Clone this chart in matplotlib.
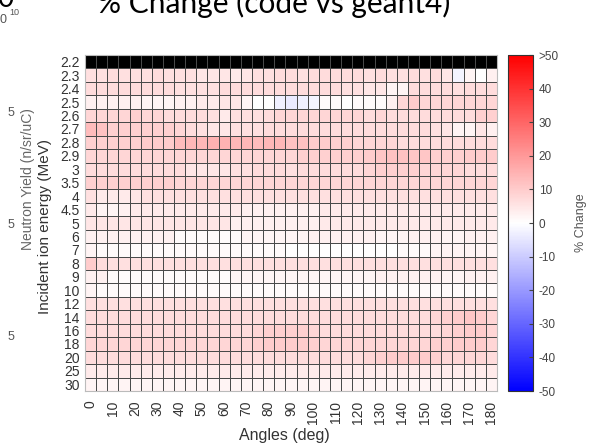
import numpy as np
import matplotlib
matplotlib.use('Agg')
import matplotlib.pyplot as plt

plt.rcParams['font.family'] = ['Liberation Sans', 'DejaVu Sans']

# energies (rows, top to bottom) and angles (columns)
energies = ['2.2', '2.3', '2.4', '2.5', '2.6', '2.7', '2.8', '2.9', '3', '3.5', '4', '4.5',
            '5', '6', '7', '8', '9', '10', '12', '14', '16', '18', '20', '25', '30']
angles = [0, 5, 10, 15, 20, 25, 30, 35, 40, 45, 50, 55, 60, 65, 70, 75, 80, 85, 90,
          95, 100, 105, 110, 115, 120, 125, 130, 135, 140, 145, 150, 155, 160, 165, 170, 175, 180]
cbar_ticks = [-50, -40, -30, -20, -10, 0, 10, 20, 30, 40, 50]
cbar_labels = ['-50', '-40', '-30', '-20', '-10', '0', '10', '20', '30', '40', '>50']

# % change (code vs geant4), 2.2 MeV row has no data
nan = np.nan
pct_change = [
    [nan] * 37,
    [6, 6, 7, 6, 6, 6, 7, 6, 6, 6, 5, 5, 5, 4, 5, 6, 6, 7, 7, 6, 7, 7, 7, 7, 7, 6, 7, 6, 6, 7, 6, 7, 5, -2, 2, 0, 3],
    [7, 7, 7, 7, 7, 7, 7, 7, 6, 6, 6, 6, 7, 7, 7, 7, 7, 7, 7, 7, 7, 7, 7, 6, 6, 5, 5, 2, 2, 7, 7, 7, 7, 6, 7, 7, 7],
    [3, 3, 3, 3, 3, 2, 2, 2, 3, 3, 4, 4, 5, 5, 2, 0, 0, -3, -4, -3, -2, 1, 1, 0, 1, 1, 1, 3, 8, 10, 8, 8, 8, 8, 8, 8, 8],
    [8, 8, 8, 8, 9, 8, 8, 7, 7, 7, 7, 6, 4, 6, 6, 6, 7, 8, 8, 8, 8, 8, 8, 8, 8, 7, 8, 7, 7, 7, 7, 7, 7, 7, 7, 9, 9],
    [13, 12, 9, 9, 9, 9, 9, 9, 8, 7, 6, 5, 5, 6, 6, 6, 7, 7, 7, 7, 7, 7, 7, 7, 7, 7, 7, 7, 7, 7, 7, 6, 5, 2, 2, 5, 3],
    [9, 9, 9, 9, 9, 10, 10, 10, 13, 14, 14, 15, 15, 14, 14, 13, 14, 14, 12, 12, 10, 10, 9, 9, 8, 8, 8, 8, 7, 7, 7, 7, 7, 7, 7, 7, 7],
    [8, 8, 8, 8, 8, 8, 8, 8, 8, 8, 8, 8, 8, 8, 8, 8, 8, 8, 8, 9, 9, 9, 9, 9, 9, 10, 11, 12, 12, 11, 11, 9, 9, 9, 10, 10, 10],
    [7, 7, 7, 7, 7, 7, 7, 7, 7, 5, 5, 5, 5, 6, 6, 7, 7, 7, 6, 7, 7, 7, 7, 7, 7, 8, 9, 9, 9, 9, 8, 8, 8, 8, 7, 7, 7],
    [9, 9, 9, 9, 9, 9, 9, 9, 8, 8, 8, 8, 8, 8, 8, 8, 8, 8, 8, 8, 8, 8, 8, 8, 8, 8, 8, 8, 8, 8, 8, 8, 8, 8, 8, 8, 8],
    [6, 4, 4, 4, 5, 6, 6, 6, 6, 6, 6, 6, 6, 6, 6, 6, 6, 6, 6, 6, 6, 6, 6, 6, 6, 6, 6, 6, 6, 6, 6, 6, 6, 6, 6, 6, 6],
    [4, 2, 2, 3, 4, 4, 4, 4, 4, 4, 4, 4, 4, 4, 3, 3, 3, 3, 3, 3, 3, 4, 4, 4, 4, 4, 4, 4, 4, 4, 4, 4, 4, 4, 4, 4, 4],
    [5, 5, 5, 5, 5, 5, 5, 5, 5, 5, 5, 5, 5, 3, 3, 3, 3, 3, 3, 3, 3, 4, 4, 4, 4, 4, 4, 4, 4, 4, 4, 4, 4, 4, 4, 4, 4],
    [3, 3, 3, 3, 3, 3, 3, 3, 1, 1, 1, 1, 1, 1, 2, 2, 2, 2, 2, 2, 3, 3, 3, 3, 3, 3, 2, 2, 2, 3, 3, 3, 2, 2, 3, 3, 3],
    [2, 1, 1, 1, 1, 1, 1, 1, 1, 1, 1, 1, 1, 1, 1, 1, 1, 1, 0, 0, 0, 0, 0, 0, 0, 0, 0, 0, 1, 1, 1, 2, 2, 2, 2, 2, 2],
    [10, 7, 6, 6, 6, 6, 6, 6, 6, 6, 6, 6, 6, 6, 6, 6, 6, 6, 6, 6, 6, 6, 6, 6, 6, 6, 6, 6, 6, 6, 6, 6, 6, 6, 6, 6, 6],
    [3, 3, 1, 1, 1, 1, 1, 1, 1, 1, 1, 1, 1, 2, 2, 2, 2, 2, 2, 2, 2, 2, 2, 2, 2, 2, 3, 3, 3, 3, 3, 3, 2, 2, 3, 3, 3],
    [2, 1, 1, 1, 1, 1, 1, 1, 1, 1, 1, 1, 1, 1, 1, 1, 1, 1, 1, 1, 1, 1, 1, 1, 1, 1, 1, 1, 1, 1, 1, 1, 1, 1, 1, 1, 1],
    [6, 6, 6, 6, 6, 6, 6, 6, 6, 6, 6, 6, 6, 6, 6, 6, 6, 6, 6, 6, 6, 6, 6, 6, 6, 6, 6, 6, 6, 6, 6, 6, 6, 6, 6, 6, 6],
    [7, 7, 7, 7, 7, 7, 7, 7, 7, 7, 7, 7, 7, 7, 7, 7, 7, 7, 7, 7, 7, 7, 7, 7, 7, 7, 7, 7, 7, 7, 7, 8, 9, 10, 11, 10, 8],
    [7, 7, 7, 7, 7, 7, 7, 7, 7, 7, 7, 7, 7, 7, 7, 8, 9, 9, 9, 9, 8, 7, 7, 7, 7, 7, 7, 7, 7, 7, 7, 7, 8, 9, 10, 10, 8],
    [8, 8, 8, 8, 8, 8, 8, 8, 8, 8, 8, 8, 8, 8, 8, 9, 10, 10, 10, 10, 9, 8, 8, 8, 8, 8, 8, 8, 8, 8, 8, 9, 9, 10, 10, 10, 8],
    [7, 7, 7, 7, 7, 7, 7, 7, 7, 7, 7, 7, 7, 7, 7, 7, 7, 7, 7, 7, 7, 7, 7, 7, 7, 8, 9, 10, 10, 10, 10, 9, 8, 8, 8, 8, 7],
    [4, 4, 4, 4, 4, 4, 4, 4, 4, 4, 4, 4, 4, 4, 4, 4, 4, 4, 4, 4, 4, 4, 4, 4, 4, 4, 4, 4, 4, 4, 4, 4, 4, 4, 4, 4, 4],
    [2, 2, 2, 2, 2, 2, 2, 2, 2, 2, 2, 2, 2, 2, 2, 2, 2, 2, 2, 2, 2, 2, 2, 2, 2, 2, 2, 2, 2, 2, 2, 2, 2, 2, 2, 2, 2],
]

data = np.ma.masked_invalid(np.array(pct_change, dtype=float))
W, H = 593, 448

fig = plt.figure(figsize=(W / 100, H / 100), dpi=100)
ax = fig.add_axes([85 / W, 1 - 391 / H, 412 / W, 336 / H])
cax = fig.add_axes([508 / W, 1 - 391 / H, 25 / W, 336 / H])

cmap = plt.get_cmap('bwr').copy()
cmap.set_bad('black')
mesh = ax.pcolormesh(data, cmap=cmap, vmin=-50, vmax=50,
                     edgecolors='#4a4a4a', linewidth=0.45)
ax.set_xlim(0, len(angles))
ax.set_ylim(len(energies), 0)

ax.set_yticks(np.arange(len(energies)) + 0.5)
ax.set_yticklabels(energies, fontsize=10, color='#333333')
ax.set_xticks(np.arange(0, len(angles), 2) + 0.5)
ax.set_xticklabels(angles[::2], fontsize=10, color='#333333', rotation=90)
ax.tick_params(length=0)
ax.tick_params(axis='y', pad=4)
ax.tick_params(axis='x', pad=7)
for s in ax.spines.values():
    s.set_color('#bbbbbb')
ax.set_xlabel('Angles (deg)', fontsize=11.5, color='#333333')
ax.xaxis.set_label_coords(0.5 - 7 / 412, (391 - 428) / 336)
ax.set_ylabel('Incident ion energy (MeV)', fontsize=11, color='#333333')
ax.yaxis.set_label_coords((52 - 85) / 412, 0.5 - 4 / 336)

cb = fig.colorbar(mesh, cax=cax, ticks=cbar_ticks)
cb.set_ticklabels(cbar_labels)
cb.ax.tick_params(labelsize=8.5, colors='#444444', direction='in', length=3, width=0.8, pad=4)
cb.outline.set_edgecolor('#333333')
cb.outline.set_linewidth(0.8)
cb.set_label('% Change', fontsize=9, color='#555555', labelpad=12)

# title, partly cut at the top edge of the screenshot
fig.text(0.5 * (98 + 450) / W, 1 - 13 / H, '% Change (code vs geant4)', fontsize=21.5,
         family='Lato', ha='center', va='baseline', color='black')

# leftovers of the neighbouring panel
fig.text(-3 / W, 1 - 7 / H, '0', fontsize=20, family='Lato', va='baseline')
fig.text(0 / W, 1 - 23 / H, '0', fontsize=9, color='#555555', va='baseline')
fig.text(9 / W, 1 - 15 / H, '10', fontsize=6.5, color='#555555', va='baseline')
for yy in [113, 225, 337]:
    fig.text(8 / W, 1 - yy / H, '5', fontsize=9, color='#555555', va='center')
fig.text(28 / W, 1 - 179 / H, 'Neutron Yield (n/sr/uC)', fontsize=10, color='#666666',
         rotation=90, ha='center', va='center')

fig.savefig('out.png', dpi=100)
